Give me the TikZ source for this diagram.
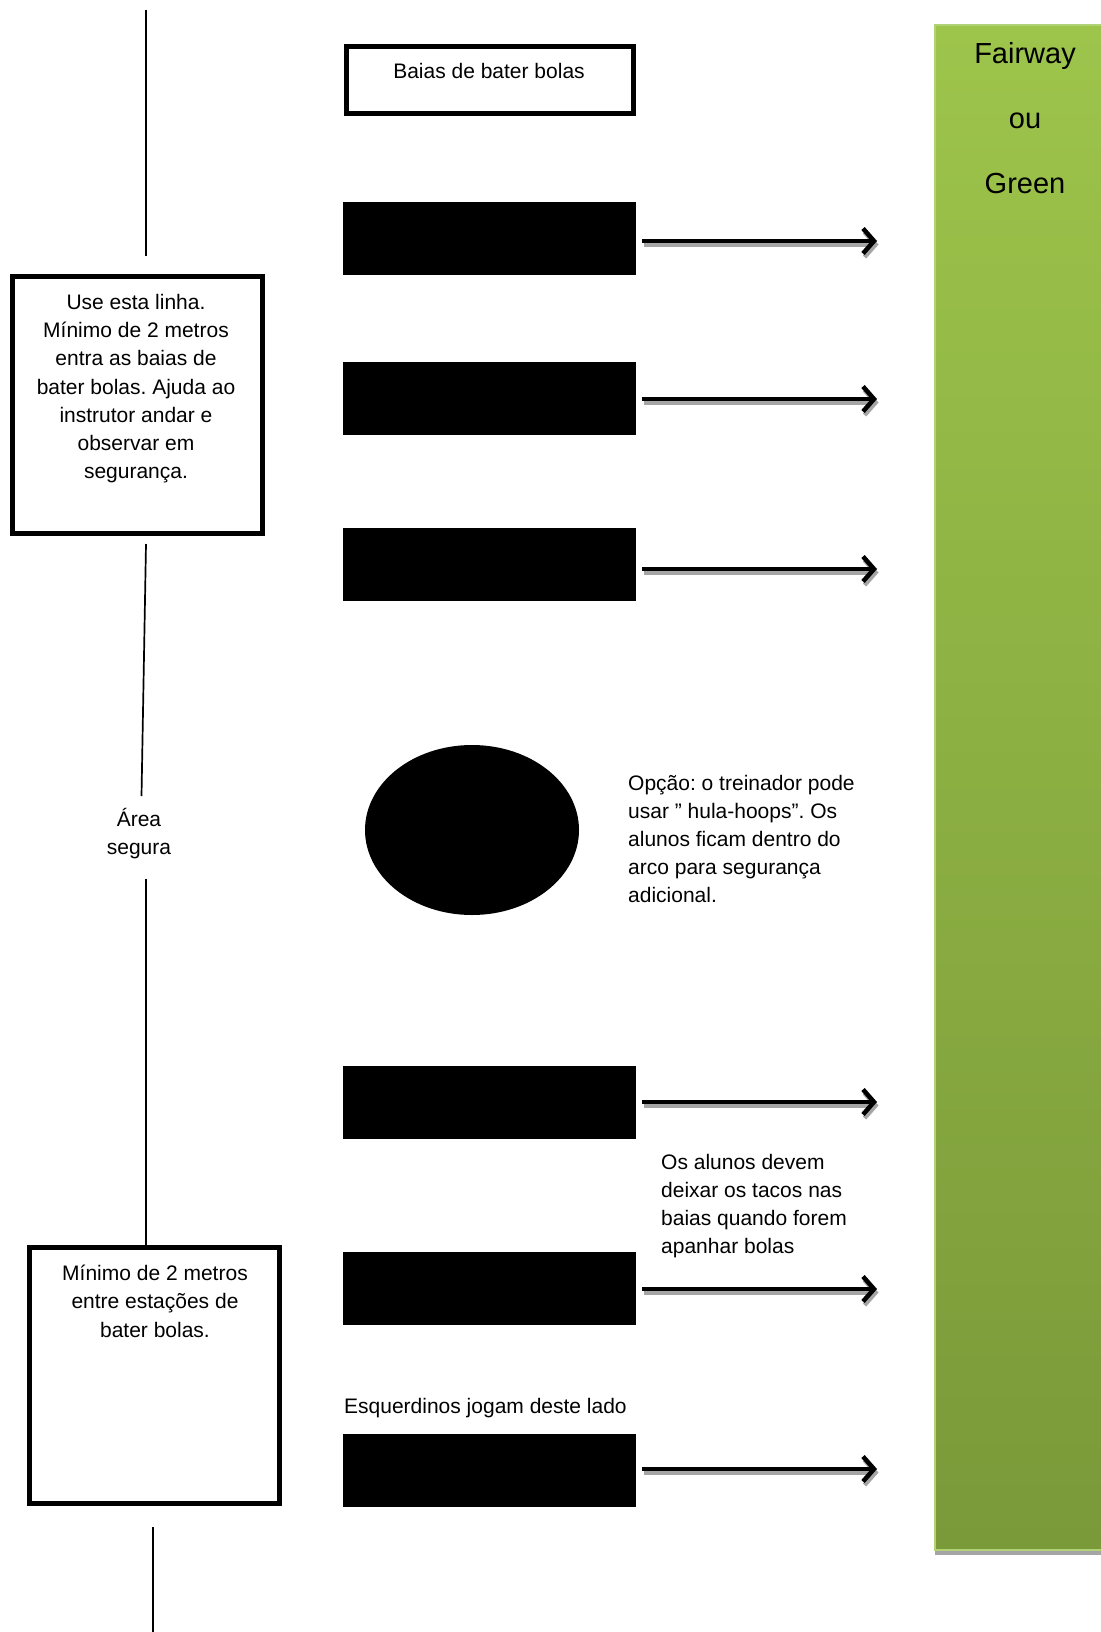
\documentclass[tikz,border=0pt]{standalone}
\usepackage{fontspec}
\setmainfont{Liberation Sans}
\usetikzlibrary{arrows.meta,calc,shapes.geometric}
\frenchspacing

\definecolor{fairtop}{RGB}{157,196,75}
\definecolor{fairbot}{RGB}{122,153,57}
\definecolor{fairedge}{RGB}{178,210,118}
\definecolor{shadowgray}{RGB}{165,165,165}

\tikzset{
  txt/.style={inner sep=0pt, font=\fontsize{21}{28}\selectfont},
  framebox/.style={draw=black, line width=5pt, fill=white, inner sep=0pt},
  bay/.style={fill=black, inner sep=0pt, minimum width=293pt, minimum height=73pt},
  hoop/.style={fill=black, ellipse, inner sep=0pt, minimum width=214pt, minimum height=170pt},
  guide/.style={draw=black, line width=1.7pt},
  shot/.style={draw=black, line width=4.5pt,
    -{Straight Barb[length=11pt,width=25pt,line width=4.5pt]}},
  shotshadow/.style={draw=shadowgray, line width=4.5pt,
    -{Straight Barb[length=11pt,width=25pt,line width=4.5pt]}},
}

\newcommand{\firststrut}[1]{\rule{0pt}{#1}}

\begin{document}
\begin{tikzpicture}[x=1pt,y=-1pt]
  \useasboundingbox (0,0) rectangle (1100,1632);
  \fill[white] (0,0) rectangle (1100,1632);

  % fairway / green strip with its drop shadow
  \fill[shadowgray] (935,32) rectangle (1104,1555);
  \node (field) [anchor=north west, inner sep=0pt, draw=fairedge, line width=2pt,
        top color=fairtop, bottom color=fairbot,
        minimum width=172pt, minimum height=1525pt] at (934,24) {};
  \node (fieldtxt) [txt, anchor=north, align=center,
        font=\fontsize{29}{65}\selectfont] at (1025,41)
        {\firststrut{22pt}Fairway\\ou\\Green};

  % heading box
  \node (head) [framebox, minimum width=287pt, minimum height=67pt] at (490,80) {};
  \node (headtxt) [txt, anchor=north] at (489,62) {\firststrut{16pt}Baias de bater bolas};

  % hitting bays
  \node (r1) [bay] at (489.5,238.5) {};
  \node (r2) [bay] at (489.5,398.5) {};
  \node (r3) [bay] at (489.5,564) {};
  \node (r4) [bay] at (489.5,1102.5) {};
  \node (r5) [bay] at (489.5,1288.5) {};
  \node (r6) [bay] at (489.5,1470.5) {};

  % hula hoop
  \node (hoop) [hoop] at (472,830) {};

  % direction of play from each bay
  \coordinate (tip) at (877,0);
  \foreach \r/\dy in {r1/2.5, r2/0.5, r3/5, r4/-0.5, r5/0.5, r6/-1.5} {
    \draw[shotshadow] ($(\r.east)+(7.5,\dy+3.5)$) -- ($(\r.east -| tip)+(1.5,\dy+3.5)$);
    \draw[shot] ($(\r.east)+(6,\dy)$) -- ($(\r.east -| tip)+(0,\dy)$);
  }

  % side notes
  \node (box1) [framebox, minimum width=250pt, minimum height=257pt] at (137.5,405) {};
  \node (box1txt) [txt, anchor=north, align=center,
        font=\fontsize{21}{28.1}\selectfont] at (136,293.5)
        {\firststrut{16pt}Use esta linha.\\Mínimo de 2 metros\\entra as baias de\\bater bolas. Ajuda ao\\instrutor andar e\\observar em\\segurança.};

  \node (box2) [framebox, minimum width=250pt, minimum height=256pt] at (154.5,1375.5) {};
  \node (box2txt) [txt, anchor=north, align=center,
        font=\fontsize{21}{28.5}\selectfont] at (155,1264)
        {\firststrut{16pt}Mínimo de 2 metros\\entre estações de\\bater bolas.};

  \node (safe) [txt, anchor=north, align=center] at (139,808)
        {\firststrut{16pt}Área\\segura};

  \node (hooptxt) [txt, anchor=north west, align=left] at (628,774)
        {\firststrut{16pt}Opção: o treinador pode\\usar ” hula-hoops”. Os\\alunos ficam dentro do\\arco para segurança\\adicional.};

  \node (clubtxt) [txt, anchor=north west, align=left] at (661,1153)
        {\firststrut{16pt}Os alunos devem\\deixar os tacos nas\\baias quando forem\\apanhar bolas};

  \node (lefttxt) [txt, anchor=north west] at (344,1397)
        {\firststrut{16pt}Esquerdinos jogam deste lado};

  % instructor walking line
  \coordinate (l1a) at (146,10);
  \coordinate (l1b) at (146,256);
  \coordinate (l2a) at (146,544);
  \coordinate (l2b) at (141.5,796);
  \coordinate (l3a) at (146,879);
  \coordinate (l4a) at (153,1527);
  \coordinate (l4b) at (153,1632);
  \draw[guide] (l1a) -- (l1b);
  \draw[guide] (l2a) -- (l2b);
  \draw[guide] (l3a) -- (l3a |- box2.north);
  \draw[guide] (l4a) -- (l4b);
\end{tikzpicture}
\end{document}
